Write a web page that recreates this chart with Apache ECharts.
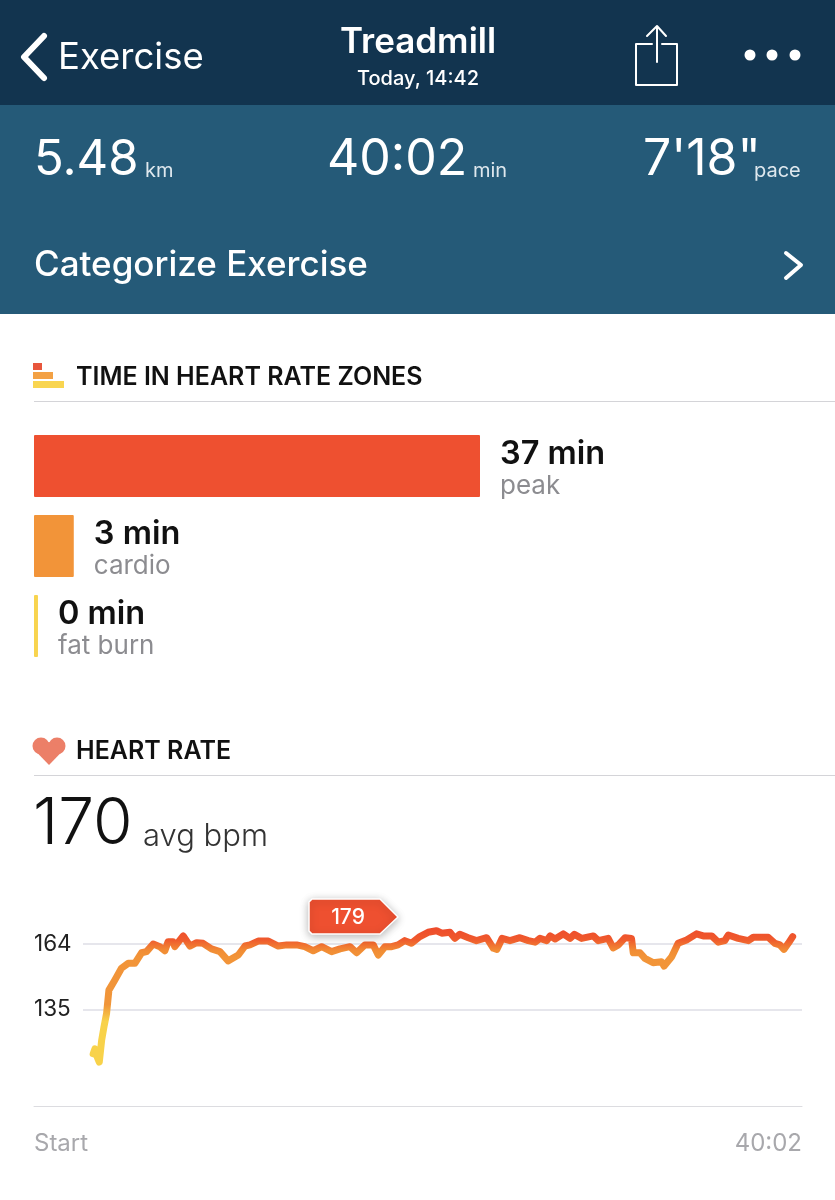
<!DOCTYPE html>
<html>
<head>
<meta charset="utf-8">
<title>Treadmill</title>
<script src="https://cdn.jsdelivr.net/npm/echarts@6/dist/echarts.min.js"></script>
<style>
html, body { margin: 0; padding: 0; background: #fff; }
#main { width: 835px; height: 1200px; }
</style>
</head>
<body>
<div id="main"></div>
<script>
var zoneNames = ['peak', 'cardio', 'fat burn'];
var zoneMinutes = ['37 min', '3 min', '0 min'];
var zoneBarValues = [37, 3.3, 0.33];
var zoneColors = ['#ee5030', '#f29439', '#f8d44f'];

var hrTicks = [135, 164];
var hrXLabels = ['Start', '40:02'];
var hrSeconds = [1, 7, 13, 22, 30, 38, 47, 55, 75, 98, 121, 144, 167, 184, 207, 230, 247, 258, 275, 281, 310, 333, 356, 378, 407, 436, 464, 499, 522, 539, 567, 602, 636, 665, 699, 727, 756, 785, 819, 848, 882, 905, 933, 962, 979, 1002, 1025, 1047, 1070, 1093, 1122, 1150, 1179, 1197, 1225, 1242, 1259, 1288, 1316, 1351, 1374, 1386, 1404, 1431, 1465, 1494, 1517, 1534, 1557, 1569, 1586, 1614, 1637, 1652, 1677, 1717, 1734, 1768, 1785, 1803, 1826, 1848, 1854, 1877, 1894, 1922, 1951, 1960, 1986, 2008, 2037, 2071, 2094, 2123, 2146, 2168, 2180, 2214, 2249, 2266, 2317, 2340, 2357, 2371, 2386, 2401];
var hrBpm = [115.2, 117.4, 114.4, 111.5, 121.1, 127.1, 133.1, 143.5, 147.9, 153.2, 155.4, 155.4, 160.1, 160.6, 164, 162.8, 161, 165, 165, 162.8, 167.6, 163.1, 164.6, 164.3, 161.8, 160.6, 156.5, 159.1, 163.1, 163.6, 165.3, 165.3, 163.1, 163.6, 163.6, 162.8, 161, 162.8, 160.6, 161.8, 162.8, 160.1, 163.6, 163.6, 159.1, 162.8, 162.8, 163.6, 165.5, 164.3, 167.3, 169.2, 169.9, 168.8, 169.2, 166.5, 168.3, 166.8, 165.5, 166.8, 162.1, 161.6, 166.5, 165.5, 166.8, 165.5, 164.8, 166.5, 165.5, 167.6, 166.2, 168.5, 166.5, 168.3, 166.5, 167.6, 165.5, 166.5, 162.3, 163.6, 166.8, 166.5, 160.1, 160.1, 157.6, 155.7, 156.1, 154.2, 158.3, 164.3, 165.8, 168.5, 167.6, 167.6, 164.8, 165.5, 168, 166.5, 165.5, 167, 167, 164.3, 163.6, 161.6, 164.3, 167.3];

var FONT = 'Inter, Lato, sans-serif';

function txt(x, y, text, size, color, weight, align) {
    return {
        type: 'text', x: x, y: y + 2, z: 5,
        style: {
            text: text, fontFamily: FONT, fontSize: size, fill: color,
            fontWeight: weight || 'normal', align: align || 'left', verticalAlign: 'middle'
        }
    };
}
function box(x, y, w, h, color) {
    return { type: 'rect', z: 1, shape: { x: x, y: y, width: w, height: h }, style: { fill: color } };
}
function stroke(points, width, color) {
    return {
        type: 'polyline', z: 5, shape: { points: points },
        style: { stroke: color, lineWidth: width, fill: null, lineCap: 'round', lineJoin: 'round' }
    };
}

var graphics = [
    // header
    box(0, 0, 835, 105, '#12344f'),
    box(0, 105, 835, 209, '#255a78'),
    stroke([[44, 36], [24, 57], [44, 78]], 6, '#fff'),
    txt(58, 56, 'Exercise', 36.5, '#fff'),
    txt(418, 40, 'Treadmill', 35, '#fff', 600, 'center'),
    txt(418, 77, 'Today, 14:42', 20, '#fff', 500, 'center'),
    stroke([[652, 44], [636, 44], [636, 85], [677, 85], [677, 44], [662, 44]], 2, '#fff'),
    stroke([[657, 62], [657, 27]], 2, '#fff'),
    stroke([[647, 36], [657, 26], [666, 36]], 2, '#fff'),
    { type: 'circle', z: 5, shape: { cx: 750, cy: 55, r: 5.5 }, style: { fill: '#fff' } },
    { type: 'circle', z: 5, shape: { cx: 772, cy: 55, r: 5.5 }, style: { fill: '#fff' } },
    { type: 'circle', z: 5, shape: { cx: 795, cy: 55, r: 5.5 }, style: { fill: '#fff' } },

    // stats
    txt(34, 158, '5.48', 49, '#fff'),
    txt(145, 169, 'km', 20, '#dfe8ee'),
    txt(327, 158, '40:02', 50, '#fff'),
    txt(473, 169, 'min', 20, '#dfe8ee'),
    txt(643, 158, "7'18\"", 50, '#fff'),
    txt(754, 169, 'pace', 20, '#dfe8ee'),
    txt(34, 263, 'Categorize Exercise', 35, '#fff', 500),
    stroke([[786, 253], [801, 265], [786, 278]], 4, '#fff'),

    // zones title
    box(33, 363, 9, 7, '#e8563c'),
    box(33, 372, 20, 7, '#f3a144'),
    box(33, 381, 31, 7, '#f9d550'),
    txt(76, 375, 'TIME IN HEART RATE ZONES', 25, '#111', 600),
    box(34, 401, 801, 1, '#d4d4d8'),

    // heart rate title
    { type: 'circle', z: 5, shape: { cx: 41, cy: 746, r: 8.5 }, style: { fill: '#ec7f68' } },
    { type: 'circle', z: 5, shape: { cx: 57, cy: 746, r: 8.5 }, style: { fill: '#ec7f68' } },
    { type: 'polygon', z: 5, shape: { points: [[33.5, 749], [49, 765], [64.5, 749], [49, 742]] }, style: { fill: '#ec7f68' } },
    txt(76, 749, 'HEART RATE', 25, '#111', 600),
    box(34, 775, 801, 1, '#d4d4d8'),
    txt(33, 823, '170', 64, '#111', 300),
    txt(143, 835, 'avg bpm', 31, '#333', 300),

    // 179 flag
    {
        type: 'polygon', z: 20,
        shape: {
            points: [[312, 899], [380, 899], [398, 917], [380, 934], [312, 934], [309, 931], [309, 902]]
        },
        style: {
            fill: '#ee5030', stroke: '#fff', lineWidth: 1.5, lineJoin: 'round',
            shadowBlur: 8, shadowOffsetY: 2, shadowColor: 'rgba(0,0,0,0.28)'
        }
    },
    { type: 'text', x: 348, y: 918, z: 21, style: { text: '179', fontFamily: FONT, fontSize: 21, fontWeight: 500, fill: '#fff', align: 'center', verticalAlign: 'middle' } }
];

var xMin = -202, xMax = 2433;
var gridStart = xMin + (83 - 34) / 768 * (xMax - xMin);

var chart = echarts.init(document.getElementById('main'));
chart.setOption({
    animation: false,
    backgroundColor: '#fff',
    graphic: graphics,
    grid: [
        { left: 34, top: 426, width: 446, height: 240 },
        { left: 34, top: 881, right: 33, height: 225 }
    ],
    xAxis: [
        { gridIndex: 0, type: 'value', min: 0, max: 37, show: false },
        {
            gridIndex: 1, type: 'value', min: xMin, max: xMax,
            splitLine: { show: false },
            axisLine: { show: true, onZero: false, lineStyle: { color: '#dcdce0', width: 1 } },
            axisTick: { show: false },
            axisLabel: {
                customValues: [xMin, xMax],
                formatter: function (v) { return v === xMin ? hrXLabels[0] : hrXLabels[1]; },
                alignMinLabel: 'left', alignMaxLabel: 'right',
                margin: 26, fontFamily: FONT, fontSize: 24, color: '#a8a8ac'
            }
        }
    ],
    yAxis: [
        { gridIndex: 0, type: 'category', inverse: true, data: zoneNames, show: false },
        {
            gridIndex: 1, type: 'value', min: 92, max: 192,
            splitLine: { show: false },
            axisLine: { show: false },
            axisTick: { show: false },
            axisLabel: {
                inside: true, margin: 0, customValues: hrTicks,
                fontFamily: FONT, fontSize: 22.5, color: '#222'
            }
        }
    ],
    series: [
        {
            type: 'bar', xAxisIndex: 0, yAxisIndex: 0,
            barWidth: 62,
            silent: true,
            data: zoneBarValues.map(function (v, i) {
                return { value: v, itemStyle: { color: zoneColors[i], borderRadius: 1 } };
            }),
            label: {
                show: true, position: 'right', distance: 20,
                formatter: function (p) {
                    return '{a|' + zoneMinutes[p.dataIndex] + '}\n{b|' + zoneNames[p.dataIndex] + '}';
                },
                rich: {
                    a: { fontFamily: FONT, fontSize: 32.5, fontWeight: 600, color: '#111', lineHeight: 40 },
                    b: { fontFamily: FONT, fontSize: 26, color: '#8c8c90', lineHeight: 24 }
                }
            }
        },
        {
            type: 'line', xAxisIndex: 1, yAxisIndex: 1,
            data: hrSeconds.map(function (s, i) { return [s, hrBpm[i]]; }),
            showSymbol: false,
            symbol: 'none',
            silent: true,
            z: 5,
            lineStyle: {
                width: 7, cap: 'round', join: 'round',
                color: new echarts.graphic.LinearGradient(0, 0, 0, 1, [
                    { offset: 0, color: '#ee4a2b' },
                    { offset: 0.09, color: '#ef5a2d' },
                    { offset: 0.17, color: '#f18d35' },
                    { offset: 0.22, color: '#f29438' },
                    { offset: 0.56, color: '#f0953a' },
                    { offset: 0.68, color: '#f8d24a' },
                    { offset: 1, color: '#f8d24a' }
                ])
            },
            markLine: {
                silent: true, symbol: 'none', z: 1,
                label: { show: false },
                lineStyle: { color: '#e6e6ec', width: 2, type: 'solid' },
                data: hrTicks.map(function (t) {
                    return [{ coord: [gridStart, t] }, { coord: [xMax, t] }];
                })
            }
        }
    ]
});
</script>
</body>
</html>
